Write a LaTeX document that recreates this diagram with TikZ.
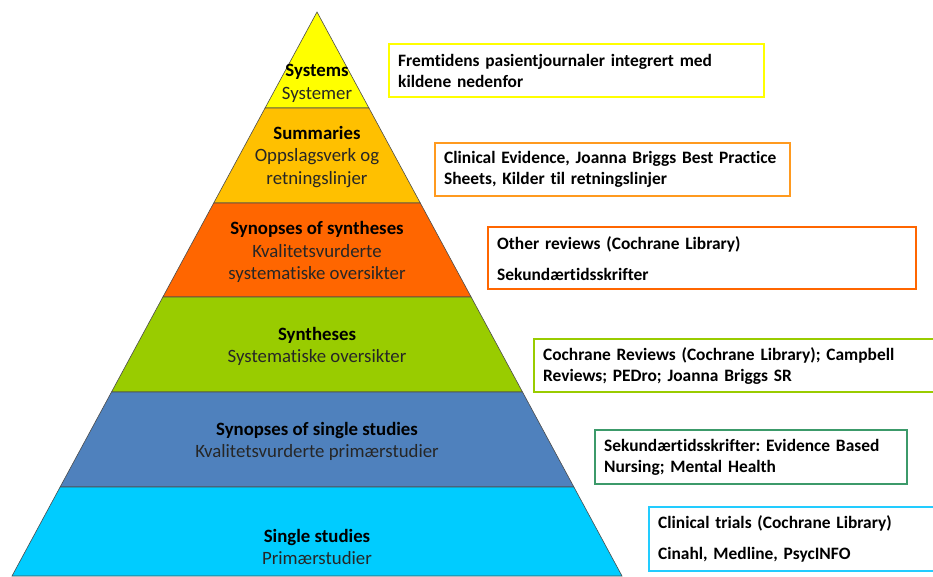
\documentclass[tikz,border=0pt]{standalone}
\usepackage{fontspec}
\setmainfont[Ligatures=NoCommon]{Carlito}
\usepackage{xcolor}
\definecolor{lvlsys}{HTML}{FFFF00}
\definecolor{lvlsum}{HTML}{FFC000}
\definecolor{lvlsos}{HTML}{FF6600}
\definecolor{lvlsyn}{HTML}{99CC00}
\definecolor{lvlsoss}{HTML}{4F81BD}
\definecolor{lvlss}{HTML}{00CCFF}
\definecolor{boxsum}{HTML}{FF9A1F}
\definecolor{boxsoss}{HTML}{3C9A6A}
\definecolor{boxss}{HTML}{22CCFF}
\newcommand{\hw}[1]{((#1-12)*0.5408)}
\frenchspacing

\begin{document}
\begin{tikzpicture}[x=1pt,y=-1pt,
  band/.style={draw=black!70,line width=0.6pt},
  lvltext/.style={align=center,inner sep=0pt,font=\fontsize{18.8}{22.5}\selectfont},
  srcbox/.style={draw=#1,line width=2.3pt,fill=white,anchor=north west,
    align=left,inner xsep=9pt,inner ysep=0pt,font=\bfseries\fontsize{17.4}{21}\selectfont}]
\useasboundingbox (0,0) rectangle (933,576);
\clip (0,0) rectangle (933,576);

% pyramid bands, top to bottom
\foreach \ya/\yb/\col in {12/108/lvlsys,108/203/lvlsum,203/297/lvlsos,297/392/lvlsyn,392/487/lvlsoss,487/576/lvlss}
  \draw[band,fill=\col] ({317-\hw{\ya}},\ya) -- ({317+\hw{\ya}},\ya) -- ({317+\hw{\yb}},\yb) -- ({317-\hw{\yb}},\yb) -- cycle;

% level texts
\node[lvltext] (sys)  at (317,83.5)  {\textbf{Systems}\\\textcolor{black!85}{Systemer}};
\node[lvltext] (sum)  at (317,157)   {\textbf{Summaries}\\\textcolor{black!85}{Oppslagsverk og}\\\textcolor{black!85}{retningslinjer}};
\node[lvltext] (sos)  at (317,252)   {\textbf{Synopses of syntheses}\\\textcolor{black!85}{Kvalitetsvurderte}\\\textcolor{black!85}{systematiske oversikter}};
\node[lvltext] (syn)  at (317,346.5) {\textbf{Syntheses}\\\textcolor{black!85}{Systematiske oversikter}};
\node[lvltext] (soss) at (317,441.5) {\textbf{Synopses of single studies}\\\textcolor{black!85}{Kvalitetsvurderte primærstudier}};
\node[lvltext] (ss)   at (317,547)   {\textbf{Single studies}\\\textcolor{black!85}{Primærstudier}};

% source boxes
\node[srcbox=lvlsys,text width=357pt,minimum height=53pt] (srcsys) at (388,43)
  {Fremtidens pasientjournaler integrert med\\kildene nedenfor};
\node[srcbox=boxsum,text width=337pt,minimum height=53pt] (srcsum) at (434,142)
  {Clinical Evidence, Joanna Briggs Best Practice\\Sheets, Kilder til retningslinjer};
\node[srcbox=lvlsos,text width=410pt,minimum height=62pt] (srcsos) at (487,226)
  {Other reviews (Cochrane Library)\\[10pt]Sekundærtidsskrifter};
\node[srcbox=lvlsyn,text width=420pt,minimum height=53pt] (srcsyn) at (533,338)
  {Cochrane Reviews (Cochrane Library); Campbell\\Reviews; PEDro; Joanna Briggs SR};
\node[srcbox=boxsoss,text width=294pt,minimum height=54pt] (srcsoss) at (594,429)
  {Sekundærtidsskrifter: Evidence Based\\Nursing; Mental Health};
\node[srcbox=boxss,text width=300pt,minimum height=64pt] (srcss) at (648,506)
  {Clinical trials (Cochrane Library)\\[10pt]Cinahl, Medline, PsycINFO};
\end{tikzpicture}
\end{document}
